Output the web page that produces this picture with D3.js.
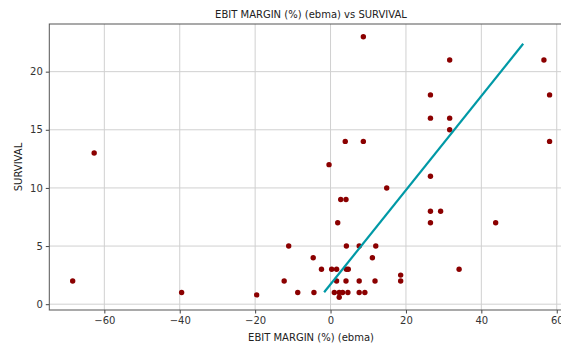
<!DOCTYPE html>
<html>
<head>
<meta charset="utf-8">
<script src="https://cdn.jsdelivr.net/npm/d3@7"></script>
<style>
  body { margin: 0; background: #fff; }
  svg { display: block; font-family: "DejaVu Sans", sans-serif; }
</style>
</head>
<body>
<svg id="chart" width="561" height="344"></svg>
<script>
// data
const ebma = [-68.4, -62.7, -39.5, -19.6, -12.3, -11.1, -8.7, -4.6, -4.4, -2.4,
  -0.4, 0.3, 1.0, 1.6, 1.6, 1.9, 2.3, 2.3, 2.7, 3.2,
  3.9, 4.1, 4.1, 4.2, 4.2, 4.7, 4.6, 7.6, 7.6, 7.6,
  8.7, 8.7, 9.1, 11.1, 11.8, 12.0, 14.9, 18.6, 18.6, 26.5,
  26.5, 26.5, 26.5, 26.5, 29.2, 31.6, 31.6, 31.6, 34.1, 43.8,
  56.6, 58.1, 58.1];
const survival = [2, 13, 1, 0.8, 2, 5, 1, 4, 1, 3,
  12, 3, 1, 3, 2, 7, 1, 0.6, 9, 1,
  14, 9, 2, 5, 3, 3, 1, 5, 2, 1,
  23, 14, 1, 4, 2, 5, 10, 2.5, 2, 18,
  16, 11, 8, 7, 8, 21, 16, 15, 3, 7,
  21, 18, 14];
// fitted line end points
const fitX = [-1.7, 51.1];
const fitY = [1.03, 22.4];
const xTicks = [-60, -40, -20, 0, 20, 40, 60];
const yTicks = [0, 5, 10, 15, 20];

(function(){
  const svg = d3.select("#chart");
  const m = {left: 49.3, top: 24, right: 572.2, bottom: 310};

  const x = d3.scaleLinear().domain([-74.6, 64.1]).range([m.left, m.right]);
  const y = d3.scaleLinear().domain([-0.5, 24.1]).range([m.bottom, m.top]);

  // grid
  svg.append("g").selectAll("line").data(xTicks).join("line")
    .attr("x1", d => x(d)).attr("x2", d => x(d))
    .attr("y1", m.top).attr("y2", m.bottom)
    .attr("stroke", "#d0d0d0").attr("stroke-width", 1);
  svg.append("g").selectAll("line").data(yTicks).join("line")
    .attr("x1", m.left).attr("x2", m.right)
    .attr("y1", d => y(d)).attr("y2", d => y(d))
    .attr("stroke", "#d0d0d0").attr("stroke-width", 1);

  // axes
  const fmt = d => d3.format("d")(d).replace("-", "\u2212");
  const xAxis = svg.append("g")
    .attr("transform", "translate(0," + m.bottom + ")")
    .call(d3.axisBottom(x).tickValues(xTicks).tickFormat(fmt).tickSize(3.5).tickPadding(3));
  const yAxis = svg.append("g")
    .attr("transform", "translate(" + m.left + ",0)")
    .call(d3.axisLeft(y).tickValues(yTicks).tickFormat(fmt).tickSize(3.5).tickPadding(3));
  [xAxis, yAxis].forEach(a => {
    a.select(".domain").remove();
    a.selectAll("text").attr("fill", "#333").style("font-size", "10px").style("font-family", "DejaVu Sans");
    a.selectAll("line").attr("stroke", "#444");
  });

  // spines
  svg.append("rect")
    .attr("x", m.left).attr("y", m.top)
    .attr("width", m.right - m.left).attr("height", m.bottom - m.top)
    .attr("fill", "none").attr("stroke", "#555").attr("stroke-width", 1);

  // points
  svg.append("g").selectAll("circle").data(ebma).join("circle")
    .attr("cx", d => x(d))
    .attr("cy", (d, i) => y(survival[i]))
    .attr("r", 2.7)
    .attr("fill", "#8b0000");

  // fit line
  svg.append("path")
    .datum(fitX.map((d, i) => [d, fitY[i]]))
    .attr("d", d3.line().x(d => x(d[0])).y(d => y(d[1])))
    .attr("stroke", "#0099a6").attr("stroke-width", 2.2).attr("fill", "none");

  // labels
  svg.append("text").attr("x", 311).attr("y", 18).attr("text-anchor", "middle")
    .attr("fill", "#222").style("font-size", "10px").text("EBIT MARGIN (%) (ebma) vs SURVIVAL");
  svg.append("text").attr("x", 311).attr("y", 341).attr("text-anchor", "middle")
    .attr("fill", "#222").style("font-size", "10px").text("EBIT MARGIN (%) (ebma)");
  svg.append("text").attr("transform", "translate(22,167) rotate(-90)").attr("text-anchor", "middle")
    .attr("fill", "#222").style("font-size", "10px").text("SURVIVAL");
})();
</script>
</body>
</html>
